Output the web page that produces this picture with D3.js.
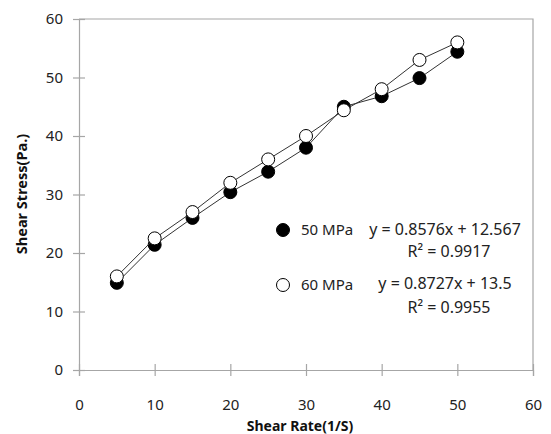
<!DOCTYPE html>
<html>
<head>
<meta charset="utf-8">
<script src="https://cdn.jsdelivr.net/npm/d3@7/dist/d3.min.js"></script>
<style>
  html, body { margin: 0; padding: 0; background: #fff; }
  svg { display: block; font-family: "Noto Sans", "Open Sans", sans-serif; }
</style>
</head>
<body>
<svg id="chart" width="551" height="434"></svg>
<script>
// Shear rate (1/S) at which each sample was measured
const shearRate = [5, 10, 15, 20, 25, 30, 35, 40, 45, 50];
// Shear stress (Pa.) for each pressure
const stress50 = [14.9, 21.4, 26, 30.4, 33.9, 38, 45, 46.8, 49.9, 54.4];
const stress60 = [16, 22.5, 27, 32, 36, 40, 44.4, 48, 53, 56];
const seriesNames = ["50 MPa", "60 MPa"];
const trendEquations = ["y = 0.8576x + 12.567", "y = 0.8727x + 13.5"];
const trendR2 = ["R² = 0.9917", "R² = 0.9955"];
const xTicks = [0, 10, 20, 30, 40, 50, 60];
const yTicks = [0, 10, 20, 30, 40, 50, 60];

const svg = d3.select("#chart");
const plotLeft = 79, plotRight = 533, plotTop = 19, plotBottom = 370;

const x = d3.scaleLinear().domain([0, 60]).range([plotLeft, plotRight]);
const y = d3.scaleLinear().domain([0, 60]).range([plotBottom, plotTop]);

const axisColor = "#a6a6a6";

// frame: top and right edges of the plot area
svg.append("path")
  .attr("d", `M${plotLeft},${plotTop}H${plotRight}V${plotBottom}`)
  .attr("fill", "none").attr("stroke", axisColor).attr("stroke-width", 1.2);

// y axis
const yAxis = svg.append("g").attr("transform", `translate(${plotLeft},0)`)
  .call(d3.axisLeft(y).tickValues(yTicks).tickSize(6).tickPadding(10));
yAxis.selectAll(".tick line").attr("x2", -6).attr("x1", 6);
yAxis.selectAll(".tick text").attr("x", -16);

// x axis
const xAxis = svg.append("g").attr("transform", `translate(0,${plotBottom})`)
  .call(d3.axisBottom(x).tickValues(xTicks).tickSize(6));
xAxis.selectAll(".tick line").attr("y1", -6).attr("y2", 6);
xAxis.selectAll(".tick text").attr("y", 29.5);

svg.selectAll(".domain").attr("stroke", axisColor).attr("stroke-width", 1.2);
svg.selectAll(".tick line").attr("stroke", axisColor).attr("stroke-width", 1.2);
svg.selectAll(".tick text")
  .attr("fill", "#222").style("font-size", "15px")
  .style("font-family", "'Noto Sans', 'Open Sans', sans-serif");

// axis titles
svg.append("text")
  .attr("x", 300).attr("y", 431)
  .attr("text-anchor", "middle")
  .style("font-size", "14px").style("font-weight", "bold").attr("fill", "#111")
  .text("Shear Rate(1/S)");
svg.append("text")
  .attr("transform", `translate(27,194) rotate(-90)`)
  .attr("text-anchor", "middle")
  .style("font-size", "14.5px").style("font-weight", "bold").attr("fill", "#111")
  .text("Shear Stress(Pa.)");

// connected series
const series = [
  { name: seriesNames[0], values: stress50, fill: "#000" },
  { name: seriesNames[1], values: stress60, fill: "#fff" }
];
const line = d3.line().x((d, i) => x(shearRate[i])).y(d => y(d));

series.forEach(s => {
  const g = svg.append("g");
  g.append("path")
    .attr("d", line(s.values))
    .attr("fill", "none").attr("stroke", "#333").attr("stroke-width", 1);
  g.selectAll("circle").data(s.values).join("circle")
    .attr("cx", (d, i) => x(shearRate[i]))
    .attr("cy", d => y(d))
    .attr("r", 6.5)
    .attr("fill", s.fill)
    .attr("stroke", "#000").attr("stroke-width", 1);
});

// legend with trendline equations
const legendRows = [
  { markerY: 230, eqY: 229, r2Y: 251 },
  { markerY: 285, eqY: 283, r2Y: 307 }
];
series.forEach((s, i) => {
  const row = legendRows[i];
  svg.append("circle")
    .attr("cx", 283).attr("cy", row.markerY).attr("r", 6.5)
    .attr("fill", s.fill).attr("stroke", "#000").attr("stroke-width", 1);
  svg.append("text")
    .attr("x", 301).attr("y", row.markerY).attr("dy", "0.35em")
    .style("font-size", "15px").attr("fill", "#222")
    .text(s.name);
  svg.append("text")
    .attr("x", 445).attr("y", row.eqY).attr("dy", "0.35em")
    .attr("text-anchor", "middle")
    .style("font-size", "16px").attr("fill", "#222")
    .text(trendEquations[i]);
  svg.append("text")
    .attr("x", 449).attr("y", row.r2Y).attr("dy", "0.35em")
    .attr("text-anchor", "middle")
    .style("font-size", "16px").attr("fill", "#222")
    .text(trendR2[i]);
});
</script>
</body>
</html>
